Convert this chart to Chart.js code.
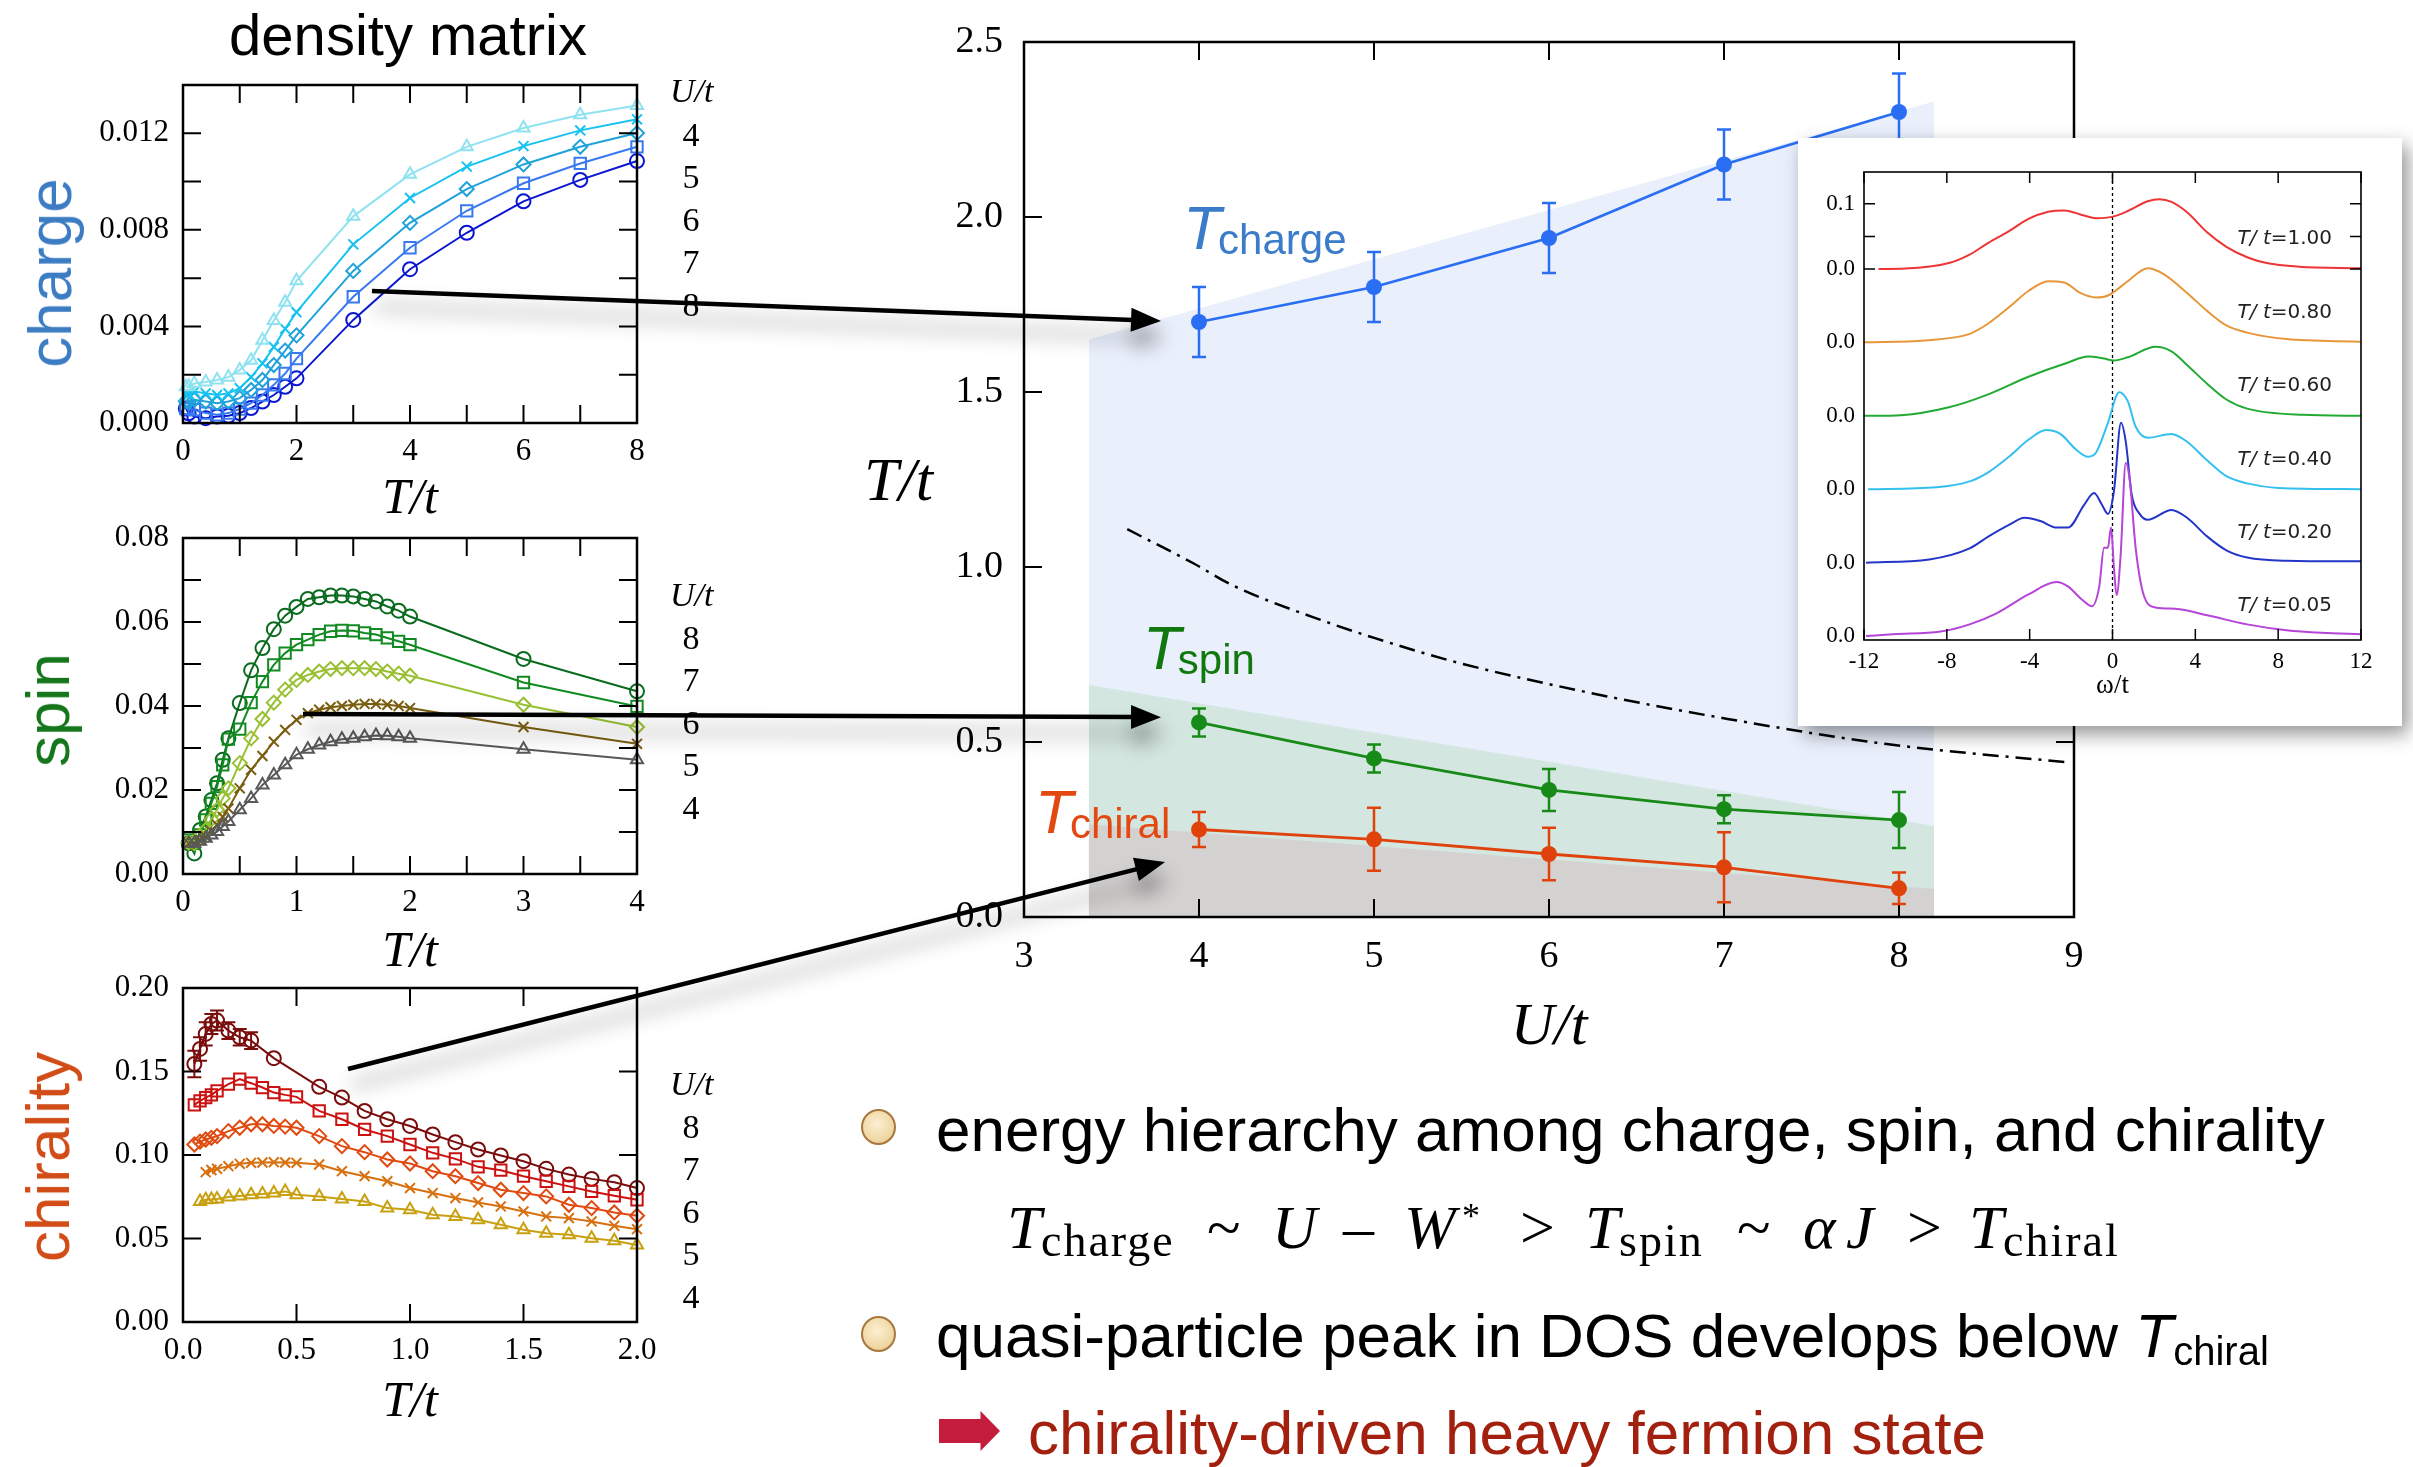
<!DOCTYPE html>
<html>
<head>
<meta charset="utf-8">
<script src="https://cdn.jsdelivr.net/npm/chart.js@4.4.1/dist/chart.umd.min.js"></script>
<style>
  html, body { margin: 0; padding: 0; background: #fff; }
  body { width: 2413px; height: 1467px; position: relative; overflow: hidden; font-family: "Liberation Sans", Arial, sans-serif; }
  canvas { position: absolute; }
  .t { position: absolute; line-height: 0; white-space: nowrap; z-index: 6; }
  .serif { font-family: "Liberation Serif", "Times New Roman", serif; }
  .it { font-style: italic; }
  .rot { position: absolute; line-height: 1; white-space: nowrap; font-size: 62px; transform: translate(-50%, -50%) rotate(-90deg); z-index: 6; }
  .bullet { position: absolute; width: 35px; height: 36px; border-radius: 50%; box-sizing: border-box;
            border: 2px solid #a8773e; background: radial-gradient(circle at 45% 40%, #fcefd2, #efd7a3 65%, #dcb574); }
  #inset { position: absolute; left: 1798px; top: 138px; width: 604px; height: 588px; background: #fff;
           box-shadow: 6px 8px 18px rgba(0,0,0,0.42); z-index: 5; }
  #inset canvas { left: 0; top: 0; }
</style>
</head>
<body>

<canvas id="mainChart" width="1180" height="1072" style="left:930px;top:-8px;z-index:1"></canvas>
<canvas id="chargeChart" width="579" height="485" style="left:93px;top:45px;z-index:1"></canvas>
<canvas id="spinChart" width="579" height="485" style="left:93px;top:498px;z-index:1"></canvas>
<canvas id="chiralChart" width="579" height="485" style="left:93px;top:948px;z-index:1"></canvas>
<div id="inset"><canvas id="dosChart" width="604" height="588"></canvas></div>
<canvas id="overlay" width="2413" height="1467" style="left:0;top:0;z-index:4;pointer-events:none"></canvas>

<div class="t" style="left:408px;top:35px;font-size:58px;transform:translateX(-50%)">density matrix</div>
<div class="rot" style="left:49.5px;top:273px;color:#3b7cc3">charge</div>
<div class="rot" style="left:48px;top:710px;color:#16761c">spin</div>
<div class="rot" style="left:48px;top:1157px;color:#d24c17">chirality</div>

<div class="t serif it" style="left:864px;top:479px;font-size:62px">T/t</div>

<div class="bullet" style="left:861px;top:1109px"></div>
<div class="t" style="left:936px;top:1129.5px;font-size:62px">energy hierarchy among charge, spin, and chirality</div>
<div class="bullet" style="left:861px;top:1316px"></div>
<div class="t" style="left:936px;top:1335.5px;font-size:62px">quasi-particle peak in DOS develops below <span class="it">T</span><span style="font-size:40px;position:relative;top:8px">chiral</span></div>
<div style="position:absolute;left:939px;top:1411px;width:61px;height:40px;background:#c41c3c;z-index:6;clip-path:polygon(0 20%,68% 20%,68% 0,100% 50%,68% 100%,68% 80%,0 80%)"></div>
<div class="t" style="left:1028px;top:1432.5px;font-size:62px;color:#a3200f">chirality-driven heavy fermion state</div>

<script>
// ---------- main phase diagram: T/t vs U/t ----------
const uValues = [4, 5, 6, 7, 8];
const tCharge = [1.70, 1.80, 1.94, 2.15, 2.30];
const tChargeErr = [0.10, 0.10, 0.10, 0.10, 0.11];
const tSpin = [0.556, 0.453, 0.363, 0.308, 0.277];
const tSpinErr = [0.04, 0.04, 0.06, 0.04, 0.08];
const tChiral = [0.25, 0.222, 0.18, 0.142, 0.082];
const tChiralErr = [0.05, 0.09, 0.075, 0.10, 0.045];
const crossoverU = [3.59, 3.97, 4.19, 4.74, 5.01, 5.47, 6.2, 7.02, 7.93, 8.98];
const crossoverT = [1.108, 1.01, 0.948, 0.841, 0.796, 0.728, 0.644, 0.566, 0.494, 0.441];
const bandU = [3.37, 8.2];
const chargeBandTop = [1.65, 2.33];
const spinBandTop = [0.663, 0.26];
const chiralBandTop = [0.265, 0.08];
const mainXTicks = [3, 4, 5, 6, 7, 8, 9];
const mainXLabels = ['3', '4', '5', '6', '7', '8', '9'];
const mainYTicks = [0, 0.5, 1, 1.5, 2, 2.5];
const mainYLabels = ['0.0', '0.5', '1.0', '1.5', '2.0', '2.5'];

// ---------- charge density matrix ----------
const chargeT = [0.05, 0.1, 0.2, 0.4, 0.6, 0.8, 1.0, 1.2, 1.4, 1.6, 1.8, 2, 3, 4, 5, 6, 7, 8];
const chargeU4 = [0.00150, 0.00152, 0.00164, 0.00170, 0.00178, 0.00190, 0.00220, 0.00260, 0.00343, 0.00425, 0.00500, 0.00589, 0.00856, 0.01030, 0.01144, 0.01222, 0.01277, 0.01315];
const chargeU5 = [0.00120, 0.00120, 0.00130, 0.00123, 0.00116, 0.00123, 0.00144, 0.00190, 0.00247, 0.00315, 0.00390, 0.00459, 0.00740, 0.00932, 0.01062, 0.01147, 0.01212, 0.01258];
const chargeU6 = [0.00090, 0.00089, 0.00096, 0.00089, 0.00082, 0.00089, 0.00103, 0.00137, 0.00178, 0.00240, 0.00300, 0.00363, 0.00630, 0.00829, 0.00969, 0.01071, 0.01144, 0.01201];
const chargeU7 = [0.00060, 0.00060, 0.00055, 0.00041, 0.00034, 0.00041, 0.00058, 0.00082, 0.00116, 0.00158, 0.00205, 0.00267, 0.00523, 0.00726, 0.00879, 0.00993, 0.01075, 0.01144];
const chargeU8 = [0.00060, 0.00040, 0.00027, 0.00020, 0.00027, 0.00030, 0.00041, 0.00062, 0.00089, 0.00116, 0.00150, 0.00185, 0.00427, 0.00637, 0.00788, 0.00918, 0.01007, 0.01085];
const chargeXTicks = [0, 1, 2, 3, 4, 5, 6, 7, 8];
const chargeXLabels = ['0', '', '2', '', '4', '', '6', '', '8'];
const chargeYTicks = [0, 0.002, 0.004, 0.006, 0.008, 0.010, 0.012];
const chargeYLabels = ['0.000', '', '0.004', '', '0.008', '', '0.012'];
const chargeLegend = ['4', '5', '6', '7', '8'];

// ---------- spin density matrix ----------
const spinT = [0.05, 0.1, 0.15, 0.2, 0.25, 0.3, 0.35, 0.4, 0.5, 0.6, 0.7, 0.8, 0.9, 1.0, 1.1, 1.2, 1.3, 1.4, 1.5, 1.6, 1.7, 1.8, 1.9, 2, 3, 4];
const spinU8 = [0.0073, 0.0049, 0.0105, 0.0137, 0.0176, 0.0216, 0.0272, 0.0323, 0.0407, 0.0485, 0.0538, 0.0583, 0.0615, 0.0636, 0.0655, 0.0659, 0.0663, 0.0663, 0.0661, 0.0655, 0.0649, 0.0637, 0.0627, 0.0613, 0.0512, 0.0435];
const spinU7 = [0.0081, 0.0073, 0.0093, 0.0129, 0.0168, 0.0208, 0.0260, 0.0321, 0.0345, 0.0408, 0.0458, 0.0498, 0.0526, 0.0546, 0.0558, 0.0570, 0.0578, 0.0580, 0.0579, 0.0574, 0.0570, 0.0562, 0.0554, 0.0546, 0.0456, 0.0399];
const spinU6 = [0.0075, 0.0073, 0.0090, 0.0105, 0.0130, 0.0153, 0.0180, 0.0204, 0.0264, 0.0323, 0.0369, 0.0408, 0.0439, 0.0462, 0.0474, 0.0482, 0.0488, 0.0490, 0.0490, 0.0490, 0.0488, 0.0482, 0.0477, 0.0472, 0.0403, 0.0350];
const spinU5 = [0.0073, 0.0073, 0.0080, 0.0089, 0.0102, 0.0117, 0.0136, 0.0156, 0.0204, 0.0248, 0.0281, 0.0315, 0.0343, 0.0367, 0.0383, 0.0391, 0.0397, 0.0400, 0.0403, 0.0405, 0.0405, 0.0403, 0.0400, 0.0395, 0.0350, 0.0310];
const spinU4 = [0.0073, 0.0073, 0.0078, 0.0085, 0.0093, 0.0101, 0.0113, 0.0125, 0.0153, 0.0180, 0.0212, 0.0236, 0.0260, 0.0284, 0.0297, 0.0307, 0.0315, 0.0321, 0.0323, 0.0327, 0.0330, 0.0329, 0.0327, 0.0323, 0.0297, 0.0272];
const spinXTicks = [0, 0.5, 1, 1.5, 2, 2.5, 3, 3.5, 4];
const spinXLabels = ['0', '', '1', '', '2', '', '3', '', '4'];
const spinYTicks = [0, 0.01, 0.02, 0.03, 0.04, 0.05, 0.06, 0.07, 0.08];
const spinYLabels = ['0.00', '', '0.02', '', '0.04', '', '0.06', '', '0.08'];
const spinLegend = ['8', '7', '6', '5', '4'];

// ---------- chirality density matrix ----------
const chiralT = [0.05, 0.075, 0.1, 0.125, 0.15, 0.2, 0.25, 0.3, 0.35, 0.4, 0.45, 0.5, 0.6, 0.7, 0.8, 0.9, 1.0, 1.1, 1.2, 1.3, 1.4, 1.5, 1.6, 1.7, 1.8, 1.9, 2.0];
const chiralU8 = [0.1545, 0.1635, 0.1725, 0.1785, 0.1805, 0.1745, 0.1705, 0.1685, null, 0.1580, null, null, 0.1408, 0.1344, 0.1264, 0.1214, 0.1174, 0.1123, 0.1077, 0.1033, 0.0997, 0.0963, 0.0917, 0.0883, 0.0857, 0.0837, 0.0802];
const chiralU8Err = [0.008, 0.007, 0.007, 0.006, 0.006, 0.005, 0.005, 0.005, 0, 0, 0, 0, 0, 0, 0, 0, 0, 0, 0, 0, 0, 0, 0, 0, 0, 0, 0];
const chiralU7 = [0.1300, 0.1324, 0.1344, 0.1360, 0.1384, 0.1424, 0.1454, 0.1430, 0.1404, 0.1374, 0.1360, 0.1348, 0.1264, 0.1214, 0.1153, 0.1113, 0.1063, 0.1013, 0.0977, 0.0929, 0.0909, 0.0873, 0.0843, 0.0812, 0.0782, 0.0756, 0.0732];
const chiralU6 = [0.1063, 0.1080, 0.1093, 0.1103, 0.1113, 0.1143, 0.1163, 0.1184, 0.1184, 0.1174, 0.1170, 0.1163, 0.1113, 0.1053, 0.1017, 0.0973, 0.0949, 0.0903, 0.0873, 0.0832, 0.0792, 0.0772, 0.0752, 0.0702, 0.0682, 0.0656, 0.0636];
const chiralU5 = [null, null, 0.0897, 0.0910, 0.0917, 0.0933, 0.0947, 0.0953, 0.0955, 0.0957, 0.0955, 0.0953, 0.0943, 0.0903, 0.0873, 0.0843, 0.0802, 0.0772, 0.0742, 0.0716, 0.0692, 0.0662, 0.0632, 0.0622, 0.0602, 0.0576, 0.0556];
const chiralU4 = [null, 0.0722, 0.0732, 0.0734, 0.0736, 0.0748, 0.0755, 0.0762, 0.0767, 0.0772, 0.0782, 0.0762, 0.0752, 0.0736, 0.0722, 0.0682, 0.0672, 0.0642, 0.0632, 0.0612, 0.0582, 0.0552, 0.0532, 0.0522, 0.0502, 0.0487, 0.0461];
const chiralXTicks = [0, 0.5, 1, 1.5, 2];
const chiralXLabels = ['0.0', '0.5', '1.0', '1.5', '2.0'];
const chiralYTicks = [0, 0.05, 0.1, 0.15, 0.2];
const chiralYLabels = ['0.00', '0.05', '0.10', '0.15', '0.20'];
const chiralLegend = ['8', '7', '6', '5', '4'];

// ---------- DOS inset (curves stacked by dosOffset, bottom to top) ----------
const dosTemps = ['0.05', '0.20', '0.40', '0.60', '0.80', '1.00'];
const dosOffset = 0.1129;
const dosW005 = [-11.9, -10.6, -8.3, -6.9, -5.6, -4.06, -2.7, -2.14, -1.47, -0.99, -0.64, -0.41, -0.22, -0.07, 0.07, 0.2, 0.39, 0.64, 0.83, 1.12, 1.5, 2.08, 3.04, 4.58, 6.5, 8.4, 10.1, 12];
const dos005 = [0, 0.003, 0.007, 0.018, 0.035, 0.064, 0.083, 0.076, 0.056, 0.046, 0.076, 0.136, 0.136, 0.167, 0.105, 0.063, 0.123, 0.266, 0.240, 0.135, 0.064, 0.044, 0.042, 0.032, 0.018, 0.009, 0.005, 0.003];
const dosW020 = [-11.9, -8.85, -6.9, -6.0, -5.0, -4.25, -3.48, -2.7, -2.14, -1.37, -0.89, -0.51, -0.22, 0.07, 0.41, 0.64, 0.93, 1.31, 1.7, 2.85, 3.6, 4.58, 5.5, 6.5, 8.4, 12];
const dos020 = [0, 0.005, 0.022, 0.040, 0.058, 0.069, 0.064, 0.054, 0.054, 0.089, 0.107, 0.089, 0.075, 0.110, 0.215, 0.186, 0.104, 0.075, 0.066, 0.081, 0.069, 0.040, 0.019, 0.008, 0.003, 0.002];
const dosW040 = [-11.8, -8.5, -6.9, -6.0, -5.0, -4.06, -3.2, -2.52, -1.76, -1.18, -0.8, -0.22, 0.32, 0.74, 1.12, 1.7, 2.85, 3.6, 4.58, 5.5, 6.5, 8.0, 12];
const dos040 = [0, 0.003, 0.012, 0.026, 0.050, 0.076, 0.091, 0.085, 0.061, 0.050, 0.056, 0.102, 0.149, 0.135, 0.096, 0.079, 0.085, 0.073, 0.044, 0.020, 0.009, 0.002, 0];
const dosW060 = [-12, -10.2, -7.9, -6.0, -4.06, -2.14, -1.18, -0.41, 0.07, 0.74, 2.08, 2.85, 3.6, 4.58, 5.5, 6.5, 9.2, 12];
const dos060 = [0, 0.001, 0.013, 0.033, 0.060, 0.082, 0.091, 0.088, 0.085, 0.090, 0.106, 0.099, 0.078, 0.049, 0.025, 0.011, 0.0015, 0];
const dosW080 = [-12, -9.05, -6.9, -6.0, -5.0, -4.06, -3.1, -2.33, -1.56, -0.8, -0.22, 0.74, 1.7, 2.47, 3.6, 4.58, 5.5, 6.5, 8.4, 12];
const dos080 = [0, 0.003, 0.013, 0.029, 0.054, 0.079, 0.094, 0.092, 0.076, 0.069, 0.072, 0.094, 0.114, 0.105, 0.076, 0.048, 0.026, 0.015, 0.005, 0.001];
const dosW100 = [-11.3, -10, -7.9, -6.9, -6.0, -5.0, -4.06, -3.1, -2.33, -1.37, -0.8, -0.03, 0.74, 1.7, 2.27, 2.85, 3.6, 4.58, 5.5, 6.5, 7.45, 9.0, 12];
const dos100 = [0, 0.0006, 0.009, 0.022, 0.040, 0.058, 0.077, 0.088, 0.090, 0.082, 0.078, 0.080, 0.089, 0.104, 0.107, 0.103, 0.087, 0.056, 0.034, 0.018, 0.009, 0.0035, 0.001];
const dosXTicks = [-12, -8, -4, 0, 4, 8, 12];
const dosXLabels = ['-12', '-8', '-4', '0', '4', '8', '12'];
const dosYLabels = ['0.0', '0.0', '0.0', '0.0', '0.0', '0.0', '', '0.1'];

// ---------- shared helpers ----------
Chart.defaults.font.family = '"Liberation Serif", "Times New Roman", serif';
Chart.defaults.color = '#000';
Chart.defaults.plugins.legend.display = false;
Chart.defaults.plugins.tooltip.enabled = false;

const framePlugin = {
  id: 'frame',
  afterDatasetsDraw(chart, args, o) {
    if (!o || !o.tick) return;
    const { ctx, chartArea: a, scales } = chart;
    const xs = o.xMarks || scales.x.ticks.map(t => t.value);
    const ys = o.yMarks || scales.y.ticks.map(t => t.value);
    ctx.save();
    ctx.strokeStyle = '#000';
    ctx.lineWidth = o.tickWidth;
    ctx.beginPath();
    xs.forEach(v => {
      const p = scales.x.getPixelForValue(v);
      ctx.moveTo(p, a.bottom); ctx.lineTo(p, a.bottom - o.tick);
      ctx.moveTo(p, a.top); ctx.lineTo(p, a.top + o.tick);
    });
    ys.forEach(v => {
      const p = scales.y.getPixelForValue(v);
      ctx.moveTo(a.left, p); ctx.lineTo(a.left + o.tick, p);
      ctx.moveTo(a.right, p); ctx.lineTo(a.right - o.tick, p);
    });
    ctx.stroke();
    ctx.lineWidth = o.frameWidth;
    ctx.strokeRect(a.left, a.top, a.right - a.left, a.bottom - a.top);
    ctx.restore();
  }
};

const errorBarPlugin = {
  id: 'errorBars',
  afterDatasetsDraw(chart) {
    const ctx = chart.ctx;
    chart.data.datasets.forEach((ds, di) => {
      if (!ds.errorCap) return;
      const meta = chart.getDatasetMeta(di);
      const ys = chart.scales.y;
      ctx.save();
      ctx.strokeStyle = ds.borderColor;
      ctx.lineWidth = ds.errorWidth || 2;
      ctx.beginPath();
      meta.data.forEach((pt, i) => {
        const p = ds.data[i];
        if (!p.err) return;
        const y1 = ys.getPixelForValue(p.y - p.err), y2 = ys.getPixelForValue(p.y + p.err);
        const c = ds.errorCap;
        ctx.moveTo(pt.x, y1); ctx.lineTo(pt.x, y2);
        ctx.moveTo(pt.x - c, y1); ctx.lineTo(pt.x + c, y1);
        ctx.moveTo(pt.x - c, y2); ctx.lineTo(pt.x + c, y2);
      });
      ctx.stroke();
      ctx.restore();
    });
  }
};
Chart.register(framePlugin, errorBarPlugin);

function axis(min, max, values, labels, fitSize, horizontal, fontSize, pad, title) {
  return {
    type: 'linear', min, max,
    grid: { display: false, drawTicks: false },
    border: { display: false },
    afterBuildTicks: s => { s.ticks = values.map(v => ({ value: v })); },
    afterFit: s => { if (horizontal) s.height = fitSize; else s.width = fitSize; },
    ticks: { autoSkip: false, maxRotation: 0, padding: pad, font: { size: fontSize }, callback: (v, i) => labels[i] },
    title: title || { display: false }
  };
}

const markerByU = { 4: 'triangle', 5: 'crossRot', 6: 'rectRot', 7: 'rect', 8: 'circle' };
function series(xs, ys, color, u, errs) {
  const pts = xs.map((x, i) => ({ x, y: ys[i], err: errs ? errs[i] : 0 })).filter(p => p.y != null);
  return {
    data: pts, borderColor: color, backgroundColor: 'rgba(0,0,0,0)', borderWidth: 2,
    pointStyle: markerByU[u], pointRadius: u === 7 ? 8 : 7, pointBorderWidth: 2,
    clip: false, errorCap: errs ? 7 : 0, errorWidth: 2
  };
}

function smallChart(id, datasets, xr, yr) {
  return new Chart(document.getElementById(id), {
    type: 'line',
    data: { datasets },
    options: {
      responsive: false, animation: false, devicePixelRatio: 1,
      layout: { padding: { top: 40, right: 35, left: 0, bottom: 0 } },
      scales: {
        x: axis(xr[0], xr[1], xr[2], xr[3], xr[4], true, 31, 10,
          { display: true, text: 'T/t', font: { size: 50, style: 'italic' }, padding: 0 }),
        y: axis(yr[0], yr[1], yr[2], yr[3], 90, false, 31, 14)
      },
      plugins: { frame: { tick: 18, tickWidth: 2, frameWidth: 2.5 } }
    }
  });
}

// ---------- left panels ----------
const chargeChart = smallChart('chargeChart', [
  series(chargeT, chargeU4, '#8fe2f0', 4),
  series(chargeT, chargeU5, '#16c2f0', 5),
  series(chargeT, chargeU6, '#1fa2da', 6),
  series(chargeT, chargeU7, '#3878f0', 7),
  series(chargeT, chargeU8, '#0a16d0', 8)
], [0, 8, chargeXTicks, chargeXLabels, 107], [0, 0.014, chargeYTicks, chargeYLabels]);

const spinChart = smallChart('spinChart', [
  series(spinT, spinU4, '#595959', 4),
  series(spinT, spinU5, '#7a5e10', 5),
  series(spinT, spinU6, '#98c032', 6),
  series(spinT, spinU7, '#128a22', 7),
  series(spinT, spinU8, '#0a6a1e', 8)
], [0, 4, spinXTicks, spinXLabels, 109], [0, 0.08, spinYTicks, spinYLabels]);

const chiralChart = smallChart('chiralChart', [
  series(chiralT, chiralU4, '#c9a010', 4),
  series(chiralT, chiralU5, '#d8700f', 5),
  series(chiralT, chiralU6, '#e04a10', 6),
  series(chiralT, chiralU7, '#cc1111', 7),
  series(chiralT, chiralU8, '#7a0c0c', 8, chiralU8Err)
], [0, 2, chiralXTicks, chiralXLabels, 111], [0, 0.2, chiralYTicks, chiralYLabels]);

// ---------- main chart ----------
const phaseLabels = {
  id: 'phaseLabels',
  afterDatasetsDraw(chart) {
    const { ctx, scales: { x, y } } = chart;
    ctx.save();
    [['charge', 3.91, 1.91, '#3b7cca'], ['spin', 3.68, 0.709, '#11780f'], ['chiral', 3.063, 0.24, '#e2480f']]
      .forEach(([sub, u, t, c]) => {
        const px = x.getPixelForValue(u), py = y.getPixelForValue(t);
        ctx.fillStyle = c;
        ctx.font = 'italic 62px "Liberation Sans"';
        ctx.fillText('T', px, py);
        const w = ctx.measureText('T').width;
        ctx.font = '42px "Liberation Sans"';
        ctx.fillText(sub, px + w - 3, py + 5);
      });
    ctx.restore();
  }
};

function band(top, color, order) {
  return {
    data: bandU.map((u, i) => ({ x: u, y: top[i] })),
    fill: 'origin', backgroundColor: color, borderWidth: 0, pointRadius: 0, order
  };
}
function tcLine(vals, errs, color) {
  return {
    data: uValues.map((u, i) => ({ x: u, y: vals[i], err: errs[i] })),
    borderColor: color, backgroundColor: color, borderWidth: 2.8,
    pointRadius: 8, pointBorderWidth: 0, order: 1, clip: false,
    errorCap: 7, errorWidth: 2.5
  };
}

const mainChart = new Chart(document.getElementById('mainChart'), {
  type: 'line',
  data: {
    datasets: [
      band(chargeBandTop, '#e9effb', 10),
      band(spinBandTop, '#d4e6e0', 9),
      band(chiralBandTop, '#d4d1d1', 8),
      {
        data: crossoverU.map((u, i) => ({ x: u, y: crossoverT[i] })),
        borderColor: '#000', borderWidth: 2.5, borderDash: [16, 7, 3, 7],
        pointRadius: 0, cubicInterpolationMode: 'monotone', order: 5
      },
      tcLine(tCharge, tChargeErr, '#2a6ef4'),
      tcLine(tSpin, tSpinErr, '#178a17'),
      tcLine(tChiral, tChiralErr, '#e0420c')
    ]
  },
  options: {
    responsive: false, animation: false, devicePixelRatio: 1,
    layout: { padding: { top: 50, right: 36, left: 0, bottom: 0 } },
    scales: {
      x: axis(3, 9, mainXTicks, mainXLabels, 147, true, 38, 17,
        { display: true, text: 'U/t', font: { size: 60, style: 'italic' }, padding: 0 }),
      y: axis(0, 2.5, mainYTicks, mainYLabels, 94, false, 38, 21)
    },
    plugins: { frame: { tick: 18, tickWidth: 2, frameWidth: 2.5 } }
  },
  plugins: [phaseLabels]
});

// ---------- DOS inset ----------
const dosLabelPlugin = {
  id: 'dosLabels',
  afterDatasetsDraw(chart) {
    const { ctx, scales: { x, y } } = chart;
    ctx.save();
    ctx.fillStyle = '#222';
    ctx.textBaseline = 'middle';
    const right = x.getPixelForValue(10.6);
    dosTemps.forEach((lab, k) => {
      const py = y.getPixelForValue(k * dosOffset + 0.046);
      ctx.font = '20px "DejaVu Sans"';
      const rest = '=' + lab;
      const wr = ctx.measureText(rest).width;
      ctx.fillText(rest, right - wr, py);
      ctx.font = 'italic 20px "DejaVu Sans"';
      const wt = ctx.measureText('T/ t').width;
      ctx.fillText('T/ t', right - wr - wt, py);
    });
    ctx.restore();
  }
};

const dosColors = ['#b544d8', '#2336c8', '#33c0ee', '#22aa33', '#e8963a', '#ee3434'];
const dosSets = [[dosW005, dos005], [dosW020, dos020], [dosW040, dos040], [dosW060, dos060], [dosW080, dos080], [dosW100, dos100]];
const dosYTicks = [0, 1, 2, 3, 4, 5].map(k => k * dosOffset).concat([5 * dosOffset + 0.05, 5 * dosOffset + 0.1]);
const dosYMin = -0.006, dosYMax = 0.7135;

const dosChart = new Chart(document.getElementById('dosChart'), {
  type: 'line',
  data: {
    datasets: dosSets.map(([w, d], k) => ({
      data: w.map((om, i) => ({ x: om, y: d[i] + k * dosOffset })),
      borderColor: dosColors[k], borderWidth: 2, pointRadius: 0,
      cubicInterpolationMode: 'monotone', clip: false
    })).concat([{
      data: [{ x: 0, y: dosYMin }, { x: 0, y: dosYMax }],
      borderColor: '#000', borderWidth: 1.3, borderDash: [3, 3], pointRadius: 0
    }])
  },
  options: {
    responsive: false, animation: false, devicePixelRatio: 1,
    layout: { padding: { top: 34, right: 41, left: 0, bottom: 0 } },
    scales: {
      x: axis(-12, 12, dosXTicks, dosXLabels, 86, true, 23, 8,
        { display: true, text: 'ω/t', font: { size: 27 }, padding: { top: 0, bottom: 24 } }),
      y: axis(dosYMin, dosYMax, dosYTicks, dosYLabels, 66, false, 23, 9)
    },
    plugins: { frame: { tick: 11, tickWidth: 1.5, frameWidth: 1.6, yMarks: dosYTicks.slice(5) } }
  },
  plugins: [dosLabelPlugin]
});

// ---------- legends beside the left panels ----------
function legend(labels, x, firstBase, step, titleBase) {
  const mk = (txt, left, base, extra) => {
    const d = document.createElement('div');
    d.className = 't serif' + extra;
    d.textContent = txt;
    d.style.fontSize = '34px';
    d.style.left = left + 'px';
    d.style.top = (base - 11.5) + 'px';
    document.body.appendChild(d);
    return d;
  };
  mk('U/t', x - 21, titleBase, ' it');
  labels.forEach((l, i) => { mk(l, x, firstBase + i * step, '').style.transform = 'translateX(-50%)'; });
}
legend(chargeLegend, 691, 146, 42.5, 102);
legend(spinLegend, 691, 649, 42.5, 606);
legend(chiralLegend, 691, 1138, 42.5, 1095);

// ---------- formula line ----------
const formulaBase = 1248, subBase = 1257;
[['T', 1007, 62, 'it', 0], ['charge', 1041, 46, '', 1], ['~', 1207, 62, '', 0], ['U', 1272, 62, 'it', 0],
 ['\u2013', 1343, 62, '', 0], ['W', 1404, 62, 'it', 0], ['*', 1462, 36, '', 2], ['>', 1520, 62, '', 0],
 ['T', 1585, 62, 'it', 0], ['spin', 1619, 46, '', 1], ['~', 1737, 62, '', 0], ['\u03b1', 1803, 62, 'it', 0],
 ['J', 1846, 62, 'it', 0], ['>', 1907, 62, '', 0], ['T', 1969, 62, 'it', 0], ['chiral', 2003, 46, '', 1]]
  .forEach(([txt, left, size, cls, kind]) => {
    const d = document.createElement('div');
    d.className = 't serif ' + cls;
    d.textContent = txt;
    d.style.fontSize = size + 'px';
    d.style.left = left + 'px';
    if (kind === 1) d.style.letterSpacing = '2px';
    const base = kind === 1 ? subBase : kind === 2 ? 1228 : formulaBase;
    d.style.top = (base - 0.3375 * size) + 'px';
    document.body.appendChild(d);
  });

// ---------- arrows linking panels to the phase diagram ----------
function pagePt(chart, xv, yv) {
  const c = chart.canvas;
  const off = c.parentElement.id === 'inset' ? c.parentElement : c;
  return [off.offsetLeft + chart.scales.x.getPixelForValue(xv), off.offsetTop + chart.scales.y.getPixelForValue(yv)];
}
const ov = document.getElementById('overlay').getContext('2d');
function arrow(p0, p1) {
  const [x0, y0] = p0, [x1, y1] = p1;
  const a = Math.atan2(y1 - y0, x1 - x0), L = 30, W = 12;
  const bx = x1 - L * Math.cos(a), by = y1 - L * Math.sin(a);
  ov.beginPath(); ov.moveTo(x0, y0); ov.lineTo(bx + 2 * Math.cos(a), by + 2 * Math.sin(a)); ov.stroke();
  ov.beginPath(); ov.moveTo(x1, y1);
  ov.lineTo(bx - W * Math.sin(a), by + W * Math.cos(a));
  ov.lineTo(bx + W * Math.sin(a), by - W * Math.cos(a));
  ov.closePath(); ov.fill();
}
ov.save();
ov.strokeStyle = '#000'; ov.fillStyle = '#000'; ov.lineWidth = 4.5;
ov.shadowColor = 'rgba(0,0,0,0.45)'; ov.shadowBlur = 20; ov.shadowOffsetX = 3; ov.shadowOffsetY = 16;
arrow(pagePt(chargeChart, 3.33, 0.00547), pagePt(mainChart, 3.783, 1.703));
arrow(pagePt(spinChart, 1.057, 0.0381), pagePt(mainChart, 3.783, 0.571));
arrow(pagePt(chiralChart, 0.727, 0.1515), pagePt(mainChart, 3.806, 0.157));
ov.restore();
</script>
</body>
</html>
